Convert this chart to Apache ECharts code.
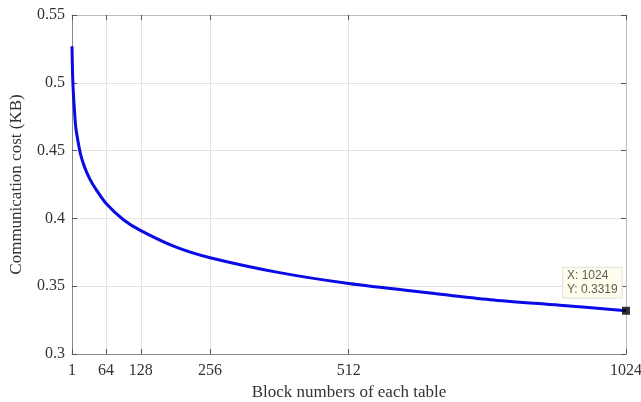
<!DOCTYPE html>
<html>
<head>
<meta charset="utf-8">
<script src="https://cdn.jsdelivr.net/npm/echarts@6/dist/echarts.min.js"></script>
<style>
html, body { margin: 0; padding: 0; background: #fff; }
#main { width: 641px; height: 402px; }
</style>
</head>
<body>
<div id="main"></div>
<script>
var blocks = [1, 2, 3, 4, 6, 8, 12, 17, 24, 34, 46, 64, 96, 128, 192, 256, 384, 512, 662, 773, 902, 1024];
var cost = [0.527, 0.507, 0.497, 0.489, 0.477, 0.467, 0.457, 0.447, 0.438, 0.429, 0.421, 0.411, 0.399, 0.391, 0.379, 0.371, 0.360, 0.352, 0.345, 0.340, 0.336, 0.3319];
var xTicks = [1, 64, 128, 256, 512, 1024];
var tipPoint = [1024, 0.3319];

var serif = 'Liberation Serif';
var lineData = blocks.map(function (b, i) { return [b, cost[i]]; });

var myChart = echarts.init(document.getElementById('main'));
var option = {
	animation: false,
	grid: {
		left: 72,
		right: 15,
		top: 15,
		bottom: 48,
		containLabel: false,
		outerBoundsMode: 'none'
	},
	xAxis: [{
		type: 'value',
		min: 1,
		max: 1024,
		name: 'Block numbers of each table',
		nameLocation: 'middle',
		nameGap: 29,
		nameTextStyle: { fontFamily: serif, fontSize: 17, color: '#333' },
		axisLine: { lineStyle: { color: '#888' } },
		axisTick: { inside: true, length: 5, customValues: xTicks, lineStyle: { color: '#555' } },
		axisLabel: {
			customValues: xTicks, fontFamily: serif, fontSize: 16, color: '#333', margin: 9,
			formatter: function (v) { return String(v); }
		},
		splitLine: { show: true, lineStyle: { color: '#e3e3e3' } }
	}, {
		type: 'value',
		position: 'top',
		min: 1,
		max: 1024,
		axisLine: { show: true, lineStyle: { color: '#bbb' } },
		axisTick: { inside: true, length: 5, customValues: xTicks, lineStyle: { color: '#555' } },
		axisLabel: { show: false },
		splitLine: { show: false }
	}],
	yAxis: [{
		type: 'value',
		min: 0.3,
		max: 0.55,
		interval: 0.05,
		name: 'Communication cost (KB)',
		nameLocation: 'middle',
		nameGap: 47,
		nameTextStyle: { fontFamily: serif, fontSize: 17, color: '#333' },
		axisLine: { show: true, lineStyle: { color: '#888' } },
		axisTick: { show: true, inside: true, length: 5, lineStyle: { color: '#555' } },
		axisLabel: {
			fontFamily: serif, fontSize: 16, color: '#333', margin: 7,
			formatter: function (v) { return String(+v.toFixed(2)); }
		},
		splitLine: { show: true, lineStyle: { color: '#e3e3e3' } }
	}, {
		type: 'value',
		position: 'right',
		min: 0.3,
		max: 0.55,
		interval: 0.05,
		axisLine: { show: true, lineStyle: { color: '#bbb' } },
		axisTick: { show: true, inside: true, length: 5, lineStyle: { color: '#555' } },
		axisLabel: { show: false },
		splitLine: { show: false }
	}],
	series: [{
		type: 'line',
		data: lineData,
		smooth: 0.3,
		showSymbol: false,
		lineStyle: { color: '#0a0ae6', width: 3 },
		z: 3
	}, {
		// data tip at the last block
		type: 'scatter',
		data: [tipPoint],
		symbol: 'rect',
		symbolSize: 8,
		itemStyle: { color: '#000' },
		label: {
			show: true,
			position: [-59, -39],
			formatter: 'X: 1024\nY: 0.3319',
			fontFamily: 'Liberation Sans',
			fontSize: 12,
			lineHeight: 14,
			color: '#333',
			backgroundColor: '#fffde6',
			borderColor: '#ddd',
			borderWidth: 1,
			padding: [1, 4]
		},
		z: 5
	}]
};
myChart.setOption(option);
</script>
</body>
</html>
